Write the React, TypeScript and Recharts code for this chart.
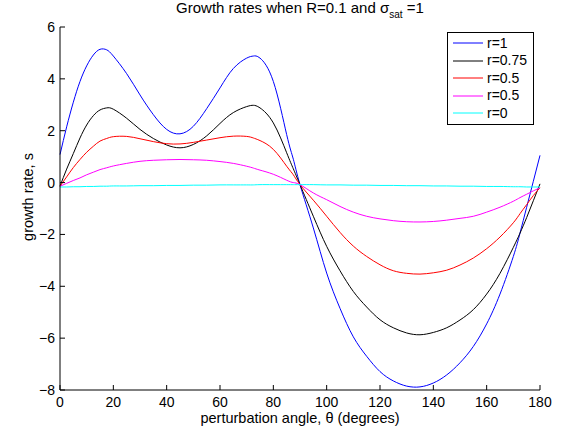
import React from 'react';
import { LineChart, Line, XAxis, YAxis, Legend } from 'recharts';

const theta = [0, 2.5, 5, 7.5, 10, 12.5, 15, 17.5, 20, 25, 30, 35, 40, 45, 50, 55, 60, 65, 70, 72.5, 75, 80, 85, 87.5, 90, 95, 100, 105, 110, 115, 120, 125, 130, 135, 140, 145, 150, 155, 160, 165, 170, 172.5, 175, 177.5, 180];

const rOne = [1.08, 2.15, 3.1, 3.9, 4.5, 4.92, 5.14, 5.12, 4.88, 4.2, 3.38, 2.62, 2.05, 1.88, 2.17, 2.85, 3.65, 4.4, 4.8, 4.88, 4.8, 3.9, 1.85, 0.9, -0.08, -1.75, -3.49, -4.85, -5.95, -6.7, -7.29, -7.65, -7.85, -7.88, -7.73, -7.42, -6.95, -6.32, -5.45, -4.3, -2.85, -1.95, -0.95, 0.05, 1.05];
const rThreeQuarter = [-0.14, 0.52, 1.12, 1.72, 2.22, 2.58, 2.8, 2.88, 2.83, 2.48, 2.05, 1.7, 1.45, 1.34, 1.47, 1.8, 2.28, 2.7, 2.93, 2.98, 2.88, 2.3, 1.15, 0.53, -0.08, -1.3, -2.46, -3.4, -4.2, -4.8, -5.29, -5.6, -5.8, -5.87, -5.78, -5.6, -5.3, -4.9, -4.3, -3.5, -2.5, -1.95, -1.35, -0.7, -0.05];
const rHalfRed = [-0.14, 0.22, 0.58, 0.89, 1.17, 1.4, 1.6, 1.7, 1.77, 1.78, 1.69, 1.58, 1.5, 1.49, 1.55, 1.64, 1.73, 1.79, 1.78, 1.72, 1.62, 1.28, 0.63, 0.3, -0.08, -0.68, -1.3, -1.92, -2.45, -2.85, -3.17, -3.4, -3.5, -3.53, -3.48, -3.38, -3.18, -2.91, -2.55, -2.1, -1.55, -1.2, -0.85, -0.5, -0.2];
const rHalfMagenta = [-0.14, -0.03, 0.08, 0.18, 0.3, 0.4, 0.5, 0.57, 0.64, 0.74, 0.82, 0.86, 0.88, 0.89, 0.88, 0.86, 0.81, 0.74, 0.63, 0.56, 0.48, 0.32, 0.09, 0.0, -0.08, -0.4, -0.66, -0.92, -1.14, -1.3, -1.4, -1.47, -1.51, -1.52, -1.5, -1.45, -1.38, -1.3, -1.14, -0.95, -0.72, -0.58, -0.45, -0.32, -0.2];
const rZero = [-0.17, -0.17, -0.16, -0.16, -0.15, -0.15, -0.14, -0.14, -0.13, -0.13, -0.12, -0.12, -0.11, -0.11, -0.1, -0.1, -0.09, -0.09, -0.09, -0.09, -0.08, -0.08, -0.08, -0.08, -0.08, -0.08, -0.09, -0.09, -0.1, -0.1, -0.11, -0.11, -0.12, -0.12, -0.13, -0.13, -0.14, -0.14, -0.15, -0.15, -0.16, -0.16, -0.17, -0.17, -0.17];

const xTicks = [0, 20, 40, 60, 80, 100, 120, 140, 160, 180];
const yTicks = [-8, -6, -4, -2, 0, 2, 4, 6];

const seriesNames = ['r=1', 'r=0.75', 'r=0.5', 'r=0.5', 'r=0'];
const seriesColors = ['#0000ff', '#000000', '#ff0000', '#ff00ff', '#00ffff'];
const seriesKeys = ['s1', 's2', 's3', 's4', 's5'];
const seriesValues = [rOne, rThreeQuarter, rHalfRed, rHalfMagenta, rZero];

const data = theta.map((t, i) => {
  const row: any = { theta: t };
  seriesKeys.forEach((k, j) => {
    row[k] = seriesValues[j][i];
  });
  return row;
});

const FONT = '"Liberation Sans", Arial, Helvetica, sans-serif';

const fmt = (v: number) => (v < 0 ? '\u2212' + Math.abs(v) : String(v));

const XTick = (props: any) => {
  const { x, y, payload } = props;
  return (
    <g>
      <line x1={x} x2={x} y1={y} y2={y - 5} stroke="#000" strokeWidth={1} />
      <text x={x} y={y + 17} textAnchor="middle" fontSize={14} fontFamily={FONT} fill="#000">
        {fmt(payload.value)}
      </text>
    </g>
  );
};

const YTick = (props: any) => {
  const { x, y, payload } = props;
  return (
    <g>
      <line x1={x} x2={x + 5} y1={y} y2={y} stroke="#000" strokeWidth={1} />
      <text x={x - 5} y={y + 5} textAnchor="end" fontSize={14} fontFamily={FONT} fill="#000">
        {fmt(payload.value)}
      </text>
    </g>
  );
};

const renderLegend = (props: any) => {
  const payload: any[] = [...(props.payload || [])];
  payload.sort((a, b) => seriesKeys.indexOf(a.dataKey) - seriesKeys.indexOf(b.dataKey));
  return (
    <div
      style={{
        border: '1px solid #000',
        background: '#fff',
        width: 85,
        padding: '1.5px 0',
        fontFamily: FONT,
      }}
    >
      {payload.map((entry: any, i: number) => (
        <div key={i} style={{ display: 'flex', alignItems: 'center', height: 17.5 }}>
          <svg width={36} height={10} style={{ display: 'block' }}>
            <line x1={5} x2={35} y1={5} y2={5} stroke={entry.color} strokeWidth={1} />
          </svg>
          <span style={{ fontSize: 14, marginLeft: 3, color: '#000', lineHeight: '17.5px' }}>{entry.value}</span>
        </div>
      ))}
    </div>
  );
};

export default function App() {
  return (
    <div
      style={{
        position: 'absolute',
        left: 0,
        top: 0,
        width: 563,
        height: 435,
        background: '#fff',
        overflow: 'hidden',
        fontFamily: FONT,
      }}
    >
      <div
        style={{
          position: 'absolute',
          left: 60,
          width: 480,
          top: -1,
          textAlign: 'center',
          fontSize: 15,
          color: '#000',
          whiteSpace: 'nowrap',
        }}
      >
        Growth rates when R=0.1 and {'\u03c3'}
        <sub style={{ fontSize: 10, verticalAlign: 'baseline', position: 'relative', top: 5 }}>sat</sub> =1
      </div>
      <LineChart
        width={563}
        height={435}
        data={data}
        margin={{ top: 27, right: 23, bottom: 0, left: 0 }}
      >
        <XAxis
          dataKey="theta"
          type="number"
          domain={[0, 180]}
          ticks={xTicks}
          interval={0}
          height={45}
          tickSize={0}
          tickMargin={0}
          tickLine={false}
          axisLine={{ stroke: '#000', strokeWidth: 1 }}
          tick={<XTick />}
          label={{
            content: () => (
              <text x={300} y={423} textAnchor="middle" fontSize={14.5} fontFamily={FONT} fill="#000">
                perturbation angle, {'\u03b8'} (degrees)
              </text>
            ),
          }}
        />
        <YAxis
          type="number"
          domain={[-8, 6]}
          ticks={yTicks}
          interval={0}
          width={60}
          tickSize={0}
          tickMargin={0}
          tickLine={false}
          axisLine={{ stroke: '#000', strokeWidth: 1 }}
          tick={<YTick />}
          label={{
            content: () => (
              <text
                x={28}
                y={197}
                transform="rotate(-90, 28, 197)"
                textAnchor="middle"
                dominantBaseline="central"
                fontSize={14.5}
                fontFamily={FONT}
                fill="#000"
              >
                growth rate, s
              </text>
            ),
          }}
        />
        <Legend
          layout="horizontal"
          align="center"
          verticalAlign="middle"
          itemSorter="dataKey"
          content={renderLegend}
          wrapperStyle={{ position: 'absolute', left: 447, top: 32, width: 'auto', right: 'auto', bottom: 'auto' }}
        />
        {seriesKeys.map((k, j) => (
          <Line
            key={k}
            dataKey={k}
            name={seriesNames[j]}
            stroke={seriesColors[j]}
            strokeWidth={1}
            type="natural"
            dot={false}
            activeDot={false}
            isAnimationActive={false}
          />
        ))}
      </LineChart>
    </div>
  );
}
